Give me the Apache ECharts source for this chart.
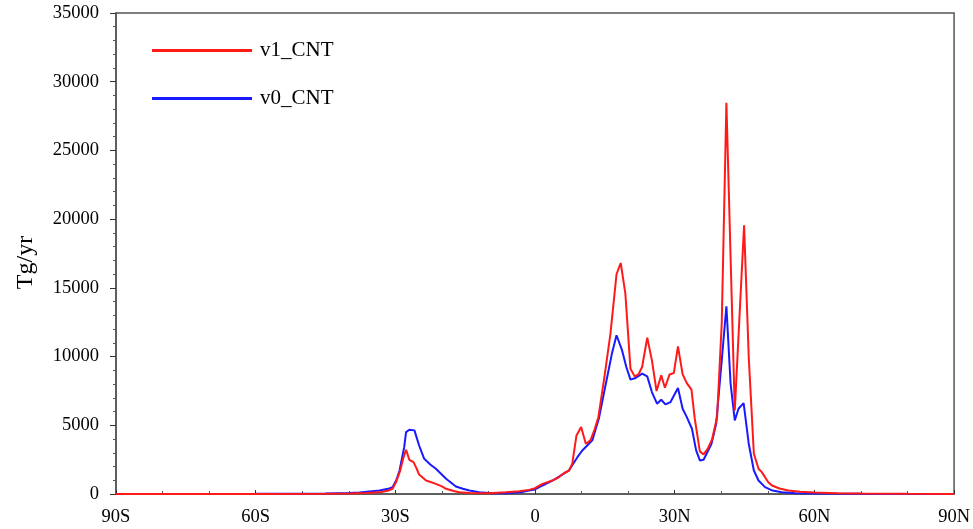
<!DOCTYPE html>
<html>
<head>
<meta charset="utf-8">
<script src="https://cdn.jsdelivr.net/npm/echarts@6/dist/echarts.min.js"></script>
<style>
  html, body { margin: 0; padding: 0; background: #fff; }
  #chart { width: 973px; height: 529px; }
</style>
</head>
<body>
<div id="chart"></div>
<script>
// latitude (deg, S negative) and flux (Tg/yr)
const v1Lat = [-90, -60, -45, -40, -36, -33, -31.5, -30.6, -29.8, -29, -28.3, -27.7, -27, -26.1, -25.5, -24.9, -23.4, -21.3, -20, -19.1, -17.5, -16.3, -14, -10, -6.3, -3.4, -1.3, 0, 1.6, 3.7, 5, 6.2, 7.3, 8, 8.9, 9.9, 10.9, 11.9, 12.8, 13.6, 14.8, 16.2, 17.5, 18.4, 19.4, 20.5, 21.4, 22.2, 23, 24.1, 25.1, 26.1, 27.1, 27.9, 28.9, 29.8, 30.7, 31.7, 32.6, 33.6, 34.3, 35.4, 36.2, 37.1, 38, 39.1, 40.1, 41.1, 42.9, 44.9, 45.9, 47, 48, 48.7, 50.1, 50.9, 52.5, 54.4, 57, 60, 65, 70, 80, 90];
const v1Val = [0, 5, 20, 40, 70, 150, 250, 380, 900, 1660, 2600, 3220, 2490, 2320, 1900, 1420, 980, 740, 550, 380, 220, 130, 80, 60, 120, 200, 300, 420, 740, 980, 1200, 1510, 1710, 2200, 4260, 4870, 3660, 3900, 4700, 5590, 8270, 11670, 15990, 16810, 14580, 9120, 8560, 8700, 9240, 11380, 9720, 7490, 8630, 7730, 8700, 8800, 10740, 8700, 8070, 7600, 5500, 3100, 2880, 3300, 3950, 5590, 12400, 28470, 6080, 19560, 9960, 2930, 1840, 1590, 860, 620, 400, 255, 170, 110, 60, 30, 10, 0];

const v0Lat = [-90, -60, -45, -40, -37.7, -33.4, -31.3, -30.6, -29.8, -29.1, -28.1, -27.7, -27, -25.9, -24.9, -23.8, -22.5, -21.3, -19.1, -17, -15.5, -14.1, -12, -9.1, -6, -3, -1.3, 0, 1.6, 3, 4.4, 6, 7.3, 8.2, 9.1, 10.1, 11.2, 12.3, 13.7, 14.6, 15.5, 16.5, 17.5, 18.7, 19.6, 20.5, 21.6, 23, 24.1, 25.1, 26.2, 27.1, 28, 29.1, 30.7, 31.7, 32.6, 33.7, 34.6, 35.4, 36.2, 37.9, 38.9, 40.1, 41.1, 42, 42.9, 43.7, 44.8, 45.9, 47, 48, 49.4, 51, 53, 56, 60, 70, 90];
const v0Val = [0, 10, 40, 70, 110, 255, 400, 500, 1000, 1710, 3410, 4500, 4680, 4630, 3530, 2560, 2150, 1840, 1110, 550, 380, 255, 130, 60, 60, 120, 255, 330, 620, 850, 1100, 1450, 1710, 2200, 2680, 3150, 3530, 3900, 5480, 7000, 8510, 10200, 11550, 10450, 9240, 8320, 8440, 8760, 8560, 7420, 6570, 6860, 6520, 6690, 7710, 6200, 5590, 4750, 3170, 2440, 2490, 3660, 5110, 9720, 13660, 8030, 5350, 6200, 6610, 3660, 1710, 980, 500, 250, 120, 60, 30, 10, 0];

const seriesNames = ['v1_CNT', 'v0_CNT'];
const seriesColors = ['#ff1a1a', '#1a1aff'];

const font = 'Liberation Serif';

var myChart = echarts.init(document.getElementById('chart'));

var option = {
  animation: false,
  backgroundColor: '#fff',
  grid: {
    left: 116, right: 17, top: 13, bottom: 35,
    show: true, borderColor: '#555', borderWidth: 1.5
  },
  legend: {
    data: seriesNames,
    orient: 'vertical',
    left: 147, top: 35,
    itemWidth: 100, itemHeight: 3, itemGap: 27,
    icon: 'rect',
    textStyle: { fontFamily: font, fontSize: 21, color: '#000', padding: [0, 0, 0, 3] }
  },
  xAxis: {
    type: 'value',
    min: -90, max: 90, interval: 30,
    splitLine: { show: false },
    axisLine: { onZero: false, lineStyle: { color: '#555', width: 1.5 } },
    axisTick: { inside: true, length: 4, lineStyle: { color: '#333' } },
    minorTick: { show: true, splitNumber: 3, length: 3, lineStyle: { color: '#555' } },
    axisLabel: {
      fontFamily: font, fontSize: 18.5, color: '#000', margin: 14,
      formatter: function (v) {
        if (v < 0) return (-v) + 'S';
        if (v > 0) return v + 'N';
        return '0';
      }
    }
  },
  yAxis: {
    type: 'value',
    min: 0, max: 35000, interval: 5000,
    name: 'Tg/yr',
    nameLocation: 'middle',
    nameGap: 78,
    nameTextStyle: { fontFamily: font, fontSize: 24, color: '#000', padding: [0, 0, 0, -18] },
    splitLine: { show: false },
    axisLine: { show: true, onZero: false, lineStyle: { color: '#555', width: 1.5 } },
    axisTick: { show: true, length: 6, lineStyle: { color: '#333' } },
    minorTick: { show: true, splitNumber: 5, length: 3, lineStyle: { color: '#555' } },
    axisLabel: {
      fontFamily: font, fontSize: 18.5, color: '#000', margin: 17,
      formatter: function (v) { return String(v); }
    }
  },
  series: [
    {
      name: seriesNames[1],
      type: 'line',
      showSymbol: false,
      color: seriesColors[1],
      lineStyle: { width: 2 },
      data: v0Lat.map((x, i) => [x, v0Val[i]])
    },
    {
      name: seriesNames[0],
      type: 'line',
      showSymbol: false,
      color: seriesColors[0],
      lineStyle: { width: 2 },
      data: v1Lat.map((x, i) => [x, v1Val[i]])
    }
  ]
};

myChart.setOption(option);
</script>
</body>
</html>
